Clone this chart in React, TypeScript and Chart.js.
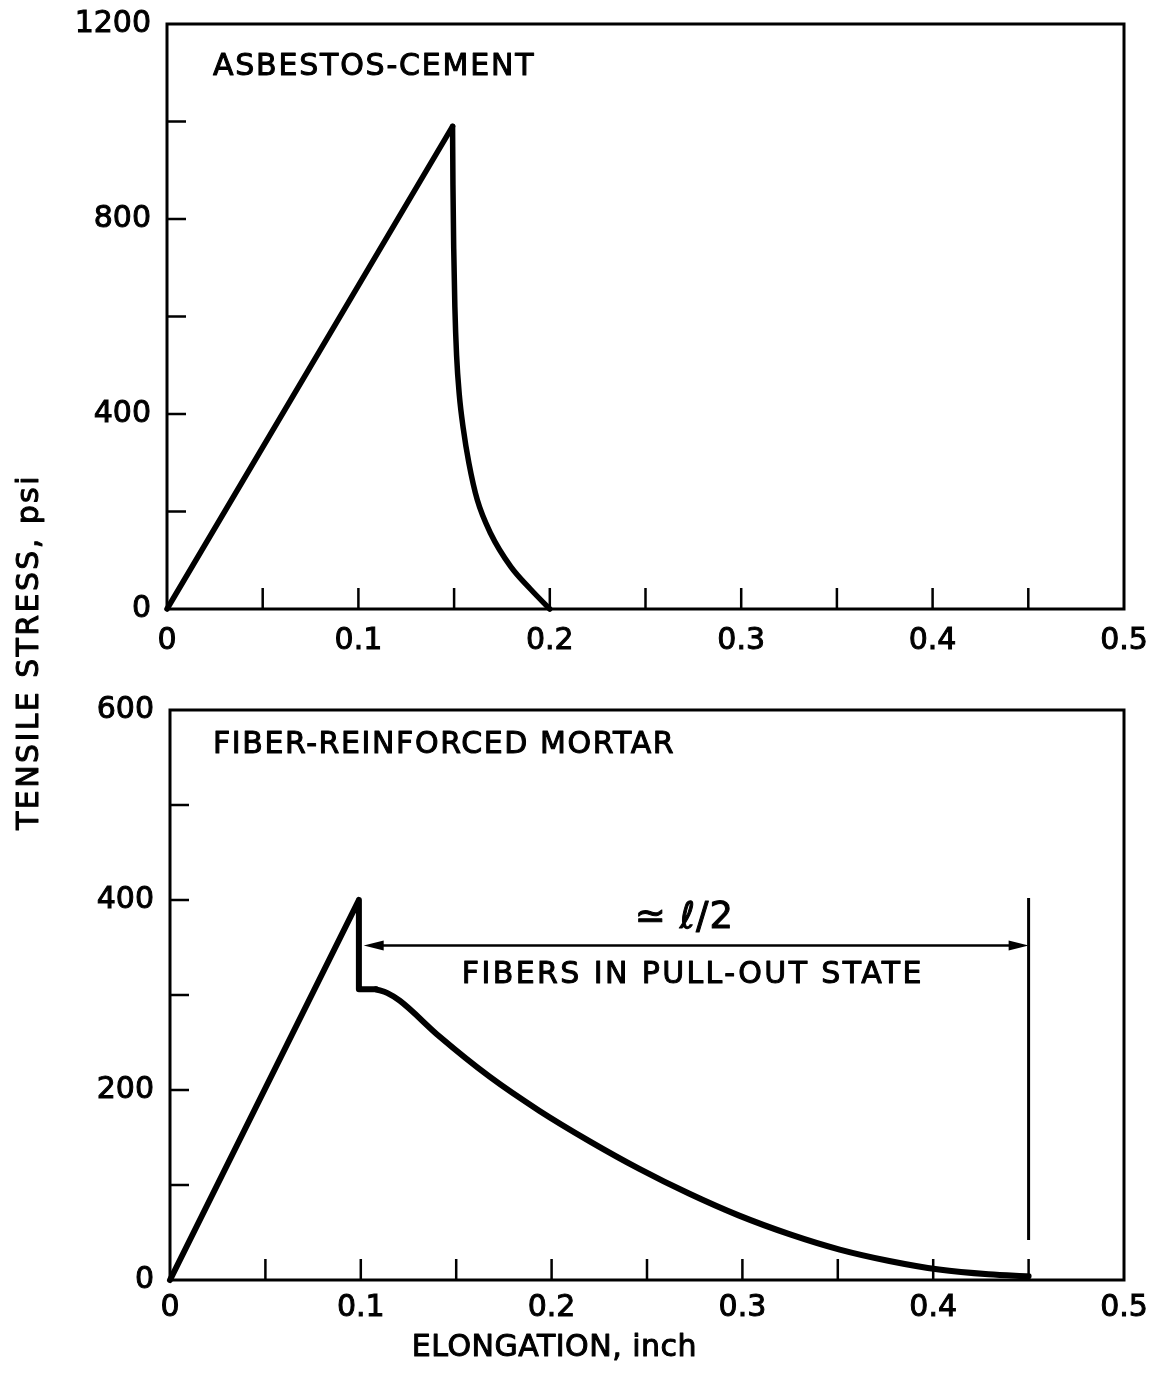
import React, { useEffect, useRef } from 'react';
import { Chart, registerables } from 'chart.js';
Chart.register(...registerables);

const FONT = '"DejaVu Sans", "Liberation Sans", sans-serif';

// ---- Top panel: asbestos-cement ----
const topRiseX = [0, 0.1492];
const topRiseY = [0, 990];
const topFallX = [0.1492, 0.1494, 0.1498, 0.1504, 0.1513, 0.1527, 0.1548, 0.1577, 0.1621, 0.1691, 0.1796, 0.1901, 0.2];
const topFallY = [990, 870, 740, 620, 520, 440, 370, 300, 224, 155, 87, 40, 0];
const topYTickLabels = ['0', '400', '800', '1200'];
const topYMarks = [200, 400, 600, 800, 1000];

// ---- Bottom panel: fiber-reinforced mortar ----
const botRiseX = [0, 0.099, 0.099, 0.108];
const botRiseY = [0, 400, 306, 306];
const botTailX = [0.108, 0.114, 0.1204, 0.1414, 0.1675, 0.1937, 0.22, 0.246, 0.272, 0.298, 0.325, 0.351, 0.377, 0.403, 0.429, 0.45];
const botTailY = [306, 302, 294, 256, 214, 178, 146, 117, 91, 68, 48, 32, 20, 11, 6, 4];
const botYTickLabels = ['0', '200', '400', '600'];
const botYMarks = [100, 200, 300, 400, 500];

// ---- shared x axis ----
const xTickLabels = ['0', '0.1', '0.2', '0.3', '0.4', '0.5'];
const xMarks = [0.05, 0.1, 0.15, 0.2, 0.25, 0.3, 0.35, 0.4, 0.45];

// ---- annotations (bottom panel) ----
const arrowY = 352;
const arrowFromX = 0.1015;
const arrowToX = 0.45;
const pullLineX = 0.45;
const pullLineY = [42, 402];

const toPts = (xs: number[], ys: number[]) => xs.map((x, i) => ({ x, y: ys[i] }));

function drawText(ctx: CanvasRenderingContext2D, text: string, x: number, y: number, align: CanvasTextAlign, size: number, spacing: number) {
  ctx.save();
  ctx.font = `${size}px ${FONT}`;
  (ctx as any).letterSpacing = `${spacing}px`;
  ctx.fillStyle = '#000';
  ctx.strokeStyle = '#000';
  ctx.lineWidth = 1;
  ctx.lineJoin = 'round';
  ctx.textAlign = align;
  ctx.textBaseline = 'middle';
  ctx.fillText(text, x, y);
  ctx.strokeText(text, x, y);
  ctx.restore();
}

function frameAndTicks(chart: any, yMarks: number[]) {
  const { ctx, chartArea: a, scales } = chart;
  ctx.save();
  ctx.strokeStyle = '#000';
  ctx.lineWidth = 3;
  ctx.strokeRect(a.left, a.top, a.right - a.left, a.bottom - a.top);
  ctx.lineWidth = 2.5;
  ctx.beginPath();
  xMarks.forEach((v) => {
    const px = scales.x.getPixelForValue(v);
    ctx.moveTo(px, a.bottom);
    ctx.lineTo(px, a.bottom - 21);
  });
  yMarks.forEach((v) => {
    const py = scales.y.getPixelForValue(v);
    ctx.moveTo(a.left, py);
    ctx.lineTo(a.left + 19, py);
  });
  ctx.stroke();
  ctx.restore();
}

const topPlugin = {
  id: 'topDecor',
  afterDraw(chart: any) {
    frameAndTicks(chart, topYMarks);
    const { ctx, scales } = chart;
    drawText(ctx, 'ASBESTOS-CEMENT', scales.x.getPixelForValue(0.024), scales.y.getPixelForValue(1112), 'left', 30, 1.8);
    ctx.save();
    ctx.translate(30, 652);
    ctx.rotate(-Math.PI / 2);
    drawText(ctx, 'TENSILE STRESS, psi', 0, 0, 'center', 30, 2.4);
    ctx.restore();
  },
};

const botPlugin = {
  id: 'botDecor',
  afterDraw(chart: any) {
    frameAndTicks(chart, botYMarks);
    const { ctx, scales } = chart;
    const X = (v: number) => scales.x.getPixelForValue(v);
    const Y = (v: number) => scales.y.getPixelForValue(v);
    drawText(ctx, 'FIBER-REINFORCED MORTAR', X(0.0225), Y(563), 'left', 30, 1.6);
    drawText(ctx, '\u2243 \u2113/2', X(0.2696), Y(381), 'center', 37, 1);
    drawText(ctx, 'FIBERS IN PULL-OUT STATE', X(0.274), Y(321), 'center', 30, 2.4);
    drawText(ctx, 'ELONGATION, inch', X(0.2015), 1348, 'center', 30, 0.5);
    ctx.save();
    ctx.strokeStyle = '#000';
    ctx.fillStyle = '#000';
    // vertical marker line
    ctx.lineWidth = 3;
    ctx.beginPath();
    ctx.moveTo(X(pullLineX), Y(pullLineY[0]));
    ctx.lineTo(X(pullLineX), Y(pullLineY[1]));
    ctx.stroke();
    // arrow
    const x1 = X(arrowFromX), x2 = X(arrowToX), y = Y(arrowY);
    ctx.lineWidth = 2.5;
    ctx.beginPath();
    ctx.moveTo(x1 + 10, y);
    ctx.lineTo(x2 - 10, y);
    ctx.stroke();
    const head = (tip: number, dir: number) => {
      ctx.beginPath();
      ctx.moveTo(tip, y);
      ctx.lineTo(tip - dir * 20, y - 5);
      ctx.lineTo(tip - dir * 20, y + 5);
      ctx.closePath();
      ctx.fill();
    };
    head(x1, -1);
    head(x2, 1);
    ctx.restore();
  },
};

function makeChart(canvas: HTMLCanvasElement, opts: any) {
  const lineDs = (data: any[], monotone: boolean) => ({
    data,
    borderColor: '#000',
    borderWidth: opts.lw,
    pointRadius: 0,
    tension: 0,
    cubicInterpolationMode: monotone ? 'monotone' : 'default',
    borderCapStyle: 'round',
    borderJoinStyle: 'round',
    clip: false,
    fill: false,
  });
  const tickFont = { family: FONT, size: 30 };
  return new Chart(canvas, {
    type: 'line',
    data: {
      datasets: [lineDs(opts.d1, false), lineDs(opts.d2, true)],
    },
    options: {
      responsive: false,
      animation: false,
      devicePixelRatio: 1,
      layout: { padding: { left: 0, top: opts.padTop, right: 37, bottom: 0 } },
      plugins: { legend: { display: false }, tooltip: { enabled: false } },
      scales: {
        x: {
          type: 'linear',
          min: 0,
          max: 0.5,
          grid: { display: false, drawTicks: false },
          border: { display: false },
          ticks: {
            stepSize: 0.1,
            autoSkip: false,
            maxRotation: 0,
            padding: opts.xPad,
            color: '#000',
            textStrokeColor: '#000',
            textStrokeWidth: 1,
            font: tickFont,
            callback: (_v: any, i: number) => xTickLabels[i],
          },
          afterFit: (s: any) => { s.height = opts.xH; s.paddingLeft = 0; s.paddingRight = 0; },
        },
        y: {
          type: 'linear',
          min: 0,
          max: opts.yMax,
          grid: { display: false, drawTicks: false },
          border: { display: false },
          ticks: {
            stepSize: opts.yStep,
            autoSkip: false,
            padding: 16,
            color: '#000',
            textStrokeColor: '#000',
            textStrokeWidth: 1,
            font: tickFont,
            callback: (_v: any, i: number) => opts.yLabels[i],
          },
          afterFit: (s: any) => { s.width = opts.yW; s.paddingTop = 0; s.paddingBottom = 0; },
        },
      },
    },
    plugins: [opts.plugin],
  } as any);
}

export default function App() {
  const topRef = useRef<HTMLCanvasElement>(null);
  const botRef = useRef<HTMLCanvasElement>(null);
  useEffect(() => {
    const c1 = makeChart(topRef.current!, {
      d1: toPts(topRiseX, topRiseY),
      d2: toPts(topFallX, topFallY),
      lw: 5.5,
      padTop: 24,
      xH: 1385 - 609,
      yW: 167,
      xPad: 14,
      yMax: 1200,
      yStep: 400,
      yLabels: topYTickLabels,
      plugin: topPlugin,
    });
    const c2 = makeChart(botRef.current!, {
      d1: toPts(botRiseX, botRiseY),
      d2: toPts(botTailX, botTailY),
      lw: 6,
      padTop: 710,
      xH: 1385 - 1280,
      yW: 170,
      xPad: 10,
      yMax: 600,
      yStep: 200,
      yLabels: botYTickLabels,
      plugin: botPlugin,
    });
    return () => { c1.destroy(); c2.destroy(); };
  }, []);
  const cs: React.CSSProperties = { position: 'absolute', left: 0, top: 0, width: 1161, height: 1385 };
  return (
    <div style={{ position: 'absolute', left: 0, top: 0, width: 1161, height: 1385, background: '#fff' }}>
      <canvas ref={topRef} width={1161} height={1385} style={cs} />
      <canvas ref={botRef} width={1161} height={1385} style={cs} />
    </div>
  );
}
